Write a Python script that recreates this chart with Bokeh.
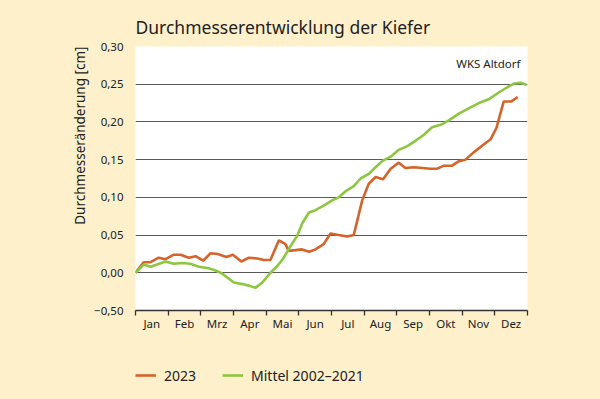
from bokeh.plotting import figure
from bokeh.layouts import column
from bokeh.models import FixedTicker, Label, Legend, LegendItem, Range1d, Title
from bokeh.embed import file_html
from bokeh.resources import INLINE

# ---- data (x in month units: 0 = 1 Jan, 12 = 31 Dec) ----
months = ["Jan", "Feb", "Mrz", "Apr", "Mai", "Jun", "Jul", "Aug", "Sep", "Okt", "Nov", "Dez"]

x_2023 = [0.00, 0.25, 0.46, 0.71, 0.92, 1.17, 1.38, 1.63, 1.84, 2.07, 2.30, 2.52, 2.78, 2.98,
          3.24, 3.47, 3.73, 3.93, 4.13, 4.39, 4.59, 4.69, 4.90, 5.10, 5.31, 5.51, 5.76, 5.97,
          6.22, 6.48, 6.68, 6.94, 7.14, 7.35, 7.58, 7.81, 8.06, 8.26, 8.52, 8.78, 9.03, 9.24,
          9.44, 9.69, 9.90, 10.10, 10.36, 10.66, 10.87, 11.05, 11.27, 11.50, 11.70]
y_2023 = [0.000, 0.014, 0.014, 0.020, 0.018, 0.024, 0.024, 0.020, 0.022, 0.016, 0.026, 0.025,
          0.021, 0.024, 0.015, 0.020, 0.019, 0.017, 0.017, 0.043, 0.038, 0.029, 0.030, 0.031,
          0.028, 0.031, 0.038, 0.052, 0.050, 0.048, 0.050, 0.096, 0.118, 0.127, 0.124, 0.138,
          0.146, 0.139, 0.140, 0.139, 0.138, 0.138, 0.142, 0.142, 0.148, 0.150, 0.160, 0.170,
          0.177, 0.192, 0.227, 0.227, 0.233]

x_mittel = [0.00, 0.25, 0.46, 0.66, 0.92, 1.17, 1.43, 1.68, 1.94, 2.24, 2.45, 2.65, 2.86, 3.01,
            3.27, 3.47, 3.67, 3.88, 4.13, 4.34, 4.54, 4.74, 4.95, 5.11, 5.31, 5.51, 5.76, 6.02,
            6.22, 6.46, 6.68, 6.89, 7.14, 7.35, 7.55, 7.81, 8.06, 8.32, 8.57, 8.83, 9.08, 9.39,
            9.59, 9.90, 10.20, 10.51, 10.81, 11.12, 11.38, 11.60, 11.79, 11.97]
y_mittel = [0.000, 0.011, 0.008, 0.011, 0.015, 0.012, 0.013, 0.012, 0.008, 0.006, 0.003, -0.001,
            -0.008, -0.013, -0.015, -0.017, -0.020, -0.013, 0.000, 0.009, 0.020, 0.035, 0.049,
            0.066, 0.080, 0.083, 0.089, 0.096, 0.100, 0.109, 0.115, 0.125, 0.131, 0.140, 0.148,
            0.154, 0.163, 0.168, 0.175, 0.183, 0.193, 0.197, 0.202, 0.211, 0.218, 0.225, 0.230,
            0.239, 0.246, 0.251, 0.252, 0.249]

y_ticks = [-0.05, 0.00, 0.05, 0.10, 0.15, 0.20, 0.25, 0.30]
y_tick_labels = ["\u22120,50", "0,00", "0,05", "0,10", "0,15", "0,20", "0,25", "0,30"]

title_text = "Durchmesserentwicklung der Kiefer"
station_text = "WKS Altdorf"
y_label_text = "Durchmesseränderung [cm]"
series_names = ["2023", "Mittel 2002\u20132021"]

# ---- style ----
BG = "#FEF0CB"
ORANGE = "#D5632A"
GREEN = "#8DC63F"
TXT = "#222222"
FONT = "Noto Sans"

p = figure(width=600, height=340, output_backend="svg", toolbar_location=None,
           x_range=Range1d(0, 12), y_range=Range1d(-0.05, 0.30),
           min_border_left=135, min_border_right=73, min_border_top=46, min_border_bottom=30)
p.background_fill_color = "white"
p.border_fill_color = BG
p.outline_line_color = None

p.add_layout(Title(text=title_text, align="left", text_font=FONT, text_font_size="17.5px",
                   text_font_style="normal", text_color=TXT, standoff=15), "above")
p.add_layout(Title(text=y_label_text, align="right", text_font=FONT, text_font_size="13.5px",
                   text_font_style="normal", text_color=TXT, standoff=5), "left")

# y axis
p.yaxis.ticker = FixedTicker(ticks=y_ticks)
p.yaxis.major_label_overrides = dict(zip(y_ticks, y_tick_labels))
p.yaxis.axis_line_color = None
p.yaxis.major_tick_line_color = None
p.yaxis.minor_tick_line_color = None
p.yaxis.major_label_standoff = 6
p.yaxis.major_label_text_font = FONT
p.yaxis.major_label_text_font_size = "11.5px"
p.yaxis.major_label_text_color = TXT

p.ygrid.ticker = FixedTicker(ticks=y_ticks)
p.ygrid.grid_line_color = "#5a5a5a"
p.ygrid.grid_line_width = 1.2
p.xgrid.grid_line_color = None

# x axis: labels at month midpoints, tick marks at month boundaries
mids = [i + 0.5 for i in range(12)]
p.xaxis.ticker = FixedTicker(ticks=mids, minor_ticks=list(range(13)))
p.xaxis.major_label_overrides = dict(zip(mids, months))
p.xaxis.major_tick_line_color = None
p.xaxis.major_tick_out = 0
p.xaxis.major_tick_in = 0
p.xaxis.minor_tick_line_color = "#333333"
p.xaxis.minor_tick_line_width = 1.3
p.xaxis.minor_tick_out = 5
p.xaxis.minor_tick_in = 0
p.xaxis.axis_line_color = "#333333"
p.xaxis.axis_line_width = 1.3
p.xaxis.major_label_standoff = 0
p.xaxis.major_label_text_font = FONT
p.xaxis.major_label_text_font_size = "11.5px"
p.xaxis.major_label_text_color = TXT

p.line(x_2023, y_2023, line_color=ORANGE, line_width=2.6)
p.line(x_mittel, y_mittel, line_color=GREEN, line_width=2.6)

p.add_layout(Label(x=12, y=0.30, x_offset=-7, y_offset=-17, text=station_text, text_font=FONT,
                   text_font_size="11.5px", text_color=TXT, text_baseline="alphabetic",
                   text_align="right"))

# legend strip below the chart (series re-drawn outside its visible range, used only as keys)
q = figure(width=600, height=59, output_backend="svg", toolbar_location=None,
           x_axis_type=None, y_axis_type=None, min_border=0,
           x_range=Range1d(0, 12), y_range=Range1d(10, 11))
q.background_fill_color = BG
q.border_fill_color = BG
q.outline_line_color = None
q.xgrid.grid_line_color = None
q.ygrid.grid_line_color = None
k1 = q.line(x_2023, y_2023, line_color=ORANGE, line_width=2.6)
k2 = q.line(x_mittel, y_mittel, line_color=GREEN, line_width=2.6)
legend = Legend(items=[LegendItem(label=series_names[0], renderers=[k1]),
                       LegendItem(label=series_names[1], renderers=[k2])],
                location=(0, 14), orientation="horizontal",
                background_fill_alpha=0, border_line_color=None,
                label_text_font=FONT, label_text_font_size="14px", label_text_color=TXT,
                glyph_width=21, glyph_height=20, label_standoff=8, spacing=26,
                padding=0, margin=0)
q.add_layout(legend)

layout = column(p, q, spacing=0)
html = file_html(layout, INLINE)
html = html.replace("<head>", "<head><style>html,body{margin:0;padding:0;background:%s;}</style>" % BG, 1)
open("out.html", "w").write(html)
